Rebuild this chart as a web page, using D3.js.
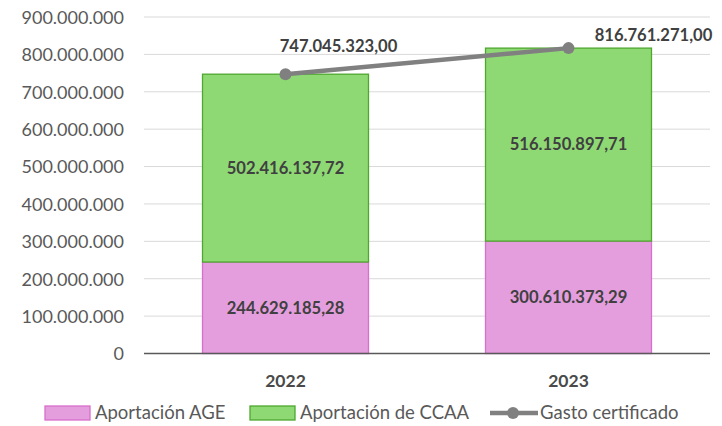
<!DOCTYPE html>
<html>
<head>
<meta charset="utf-8">
<script src="https://cdn.jsdelivr.net/npm/d3@7"></script>
<style>
  body { margin: 0; background: #fff; }
  text { font-family: Lato, "Open Sans", sans-serif; }
  .tick text { fill: #595959; font-size: 18px; }
  .lbl { fill: #404040; font-size: 16.6px; font-weight: bold; }
  .yr { fill: #4a4a4a; font-size: 17.5px; font-weight: bold; }
  .leg { fill: #595959; font-size: 18.5px; }
</style>
</head>
<body>
<svg id="chart" width="722" height="426"></svg>
<script>
var years = ["2022", "2023"];
var aportacionAGE = [244629185.28, 300610373.29];
var aportacionCCAA = [502416137.72, 516150897.71];
var gastoCertificado = [747045323.00, 816761271.00];
var yTicks = [0, 100e6, 200e6, 300e6, 400e6, 500e6, 600e6, 700e6, 800e6, 900e6];

var svg = d3.select("#chart");

var fmtInt = d3.formatLocale({ decimal: ",", thousands: ".", grouping: [3], currency: ["", "€"] });
var fmtTick = fmtInt.format(",.0f");
var fmtVal = fmtInt.format(",.2f");

var x = d3.scaleBand().domain(years).range([144, 710]).paddingInner(0.41).paddingOuter(0.205);
var y = d3.scaleLinear().domain([0, 900e6]).range([353.5, 17]);
var cx = function(d) { return x(d) + x.bandwidth() / 2; };

// gridlines
svg.append("g")
  .selectAll("line")
  .data(yTicks.slice(1))
  .enter().append("line")
  .attr("x1", 144).attr("x2", 710)
  .attr("y1", function(d) { return y(d); })
  .attr("y2", function(d) { return y(d); })
  .attr("stroke", "#d9d9d9")
  .attr("stroke-width", 1);

var yAxis = svg.append("g")
  .attr("transform", "translate(124,0)")
  .call(d3.axisLeft(y).tickValues(yTicks).tickFormat(fmtTick).tickSize(0).tickPadding(0));
yAxis.select(".domain").remove();
yAxis.selectAll(".tick text").attr("dy", "0.35em");

// stacked bars
var stackData = years.map(function(yr, i) {
  return { year: yr, age: aportacionAGE[i], ccaa: aportacionCCAA[i] };
});
var series = d3.stack().keys(["age", "ccaa"])(stackData);
var fills = { age: "#e49edd", ccaa: "#8fd975" };
var strokes = { age: "#d86ecd", ccaa: "#4ea72e" };

svg.append("g").selectAll("g")
  .data(series)
  .enter().append("g")
  .each(function(s) {
    d3.select(this).selectAll("rect")
      .data(s)
      .enter().append("rect")
      .attr("x", function(d) { return x(d.data.year) + 0.5; })
      .attr("width", x.bandwidth() - 1)
      .attr("y", function(d) { return y(d[1]); })
      .attr("height", function(d) { return y(d[0]) - y(d[1]); })
      .attr("fill", fills[s.key])
      .attr("stroke", strokes[s.key])
      .attr("stroke-width", 1.3);
    d3.select(this).selectAll("text")
      .data(s)
      .enter().append("text")
      .attr("class", "lbl")
      .attr("text-anchor", "middle")
      .attr("dy", "0.35em")
      .attr("x", function(d) { return cx(d.data.year); })
      .attr("y", function(d) { return (y(d[0]) + y(d[1])) / 2; })
      .text(function(d) { return fmtVal(d[1] - d[0]); });
  });

// x axis line
svg.append("line")
  .attr("x1", 144).attr("x2", 710)
  .attr("y1", y(0)).attr("y2", y(0))
  .attr("stroke", "#595959").attr("stroke-width", 1.3);

svg.append("g").selectAll("text")
  .data(years)
  .enter().append("text")
  .attr("class", "yr")
  .attr("text-anchor", "middle")
  .attr("x", cx)
  .attr("y", 387)
  .text(function(d) { return d; });

// gasto line
var line = d3.line()
  .x(function(d, i) { return cx(years[i]); })
  .y(function(d) { return y(d); });

svg.append("path")
  .datum(gastoCertificado)
  .attr("d", line)
  .attr("fill", "none")
  .attr("stroke", "#808080")
  .attr("stroke-width", 4.5);

svg.append("g").selectAll("circle")
  .data(gastoCertificado)
  .enter().append("circle")
  .attr("cx", function(d, i) { return cx(years[i]); })
  .attr("cy", function(d) { return y(d); })
  .attr("r", 6)
  .attr("fill", "#808080");

// labels were dragged by hand in the original
var lineLabelOffset = [[53, -22], [85, -7]];
svg.append("g").selectAll("text")
  .data(gastoCertificado)
  .enter().append("text")
  .attr("class", "lbl")
  .attr("text-anchor", "middle")
  .attr("x", function(d, i) { return cx(years[i]) + lineLabelOffset[i][0]; })
  .attr("y", function(d, i) { return y(d) + lineLabelOffset[i][1]; })
  .text(function(d) { return fmtVal(d); });

// legend
var legY = 413;
var leg = svg.append("g");
leg.append("rect").attr("x", 45).attr("y", legY - 7).attr("width", 45).attr("height", 14)
  .attr("fill", fills.age).attr("stroke", strokes.age).attr("stroke-width", 1.3);
leg.append("text").attr("class", "leg").attr("x", 95).attr("y", legY).attr("dy", "0.35em").text("Aportación AGE");
leg.append("rect").attr("x", 250).attr("y", legY - 7).attr("width", 45).attr("height", 14)
  .attr("fill", fills.ccaa).attr("stroke", strokes.ccaa).attr("stroke-width", 1.3);
leg.append("text").attr("class", "leg").attr("x", 300).attr("y", legY).attr("dy", "0.35em").text("Aportación de CCAA");
leg.append("line").attr("x1", 490).attr("x2", 538).attr("y1", legY).attr("y2", legY)
  .attr("stroke", "#808080").attr("stroke-width", 4.5);
leg.append("circle").attr("cx", 513).attr("cy", legY).attr("r", 6).attr("fill", "#808080");
leg.append("text").attr("class", "leg").attr("x", 540).attr("y", legY).attr("dy", "0.35em").text("Gasto certificado");
</script>
</body>
</html>
